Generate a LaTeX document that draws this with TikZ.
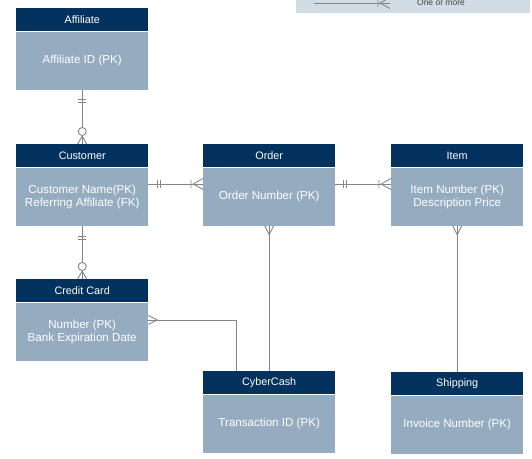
\documentclass[tikz,border=0pt]{standalone}
\usepackage{fontspec}
\setmainfont{Liberation Sans}
\usetikzlibrary{positioning, calc}
\usepackage{xcolor}
\definecolor{hdblue}{HTML}{03325E}
\definecolor{bdblue}{HTML}{95ABC0}
\definecolor{lngray}{HTML}{858585}
\definecolor{lgbg}{HTML}{D2DCE4}

\tikzset{
    head/.style={fill=hdblue, text=white, minimum width=132pt, minimum height=23pt,
        inner sep=0pt, font=\fontsize{10.8}{12}\selectfont},
    body/.style={fill=bdblue, text=white, minimum width=132pt, minimum height=58pt,
        inner sep=0pt, align=center, font=\fontsize{11.6}{13}\selectfont},
    conn/.style={draw=lngray, line width=0.9pt},
    twobar/.pic={\draw[conn] (0,-4) -- (0,4) (3,-4) -- (3,4);},
    onebar/.pic={\draw[conn] (0,-4) -- (0,4);},
    crowfoot/.pic={\draw[conn] (-9,0) -- (0,-4.5) (-9,0) -- (0,4.5);},
    ringfoot/.pic={\draw[conn] (-8,0) -- (0,-4.5) (-8,0) -- (0,4.5);
        \draw[conn, fill=white] (-12.5,0) circle (4);},
    barfoot/.pic={\draw[conn] (-10,0) -- (0,-5.5) (-10,0) -- (0,5.5) (-12,-4) -- (-12,4);}
}

\begin{document}
\begin{tikzpicture}[x=1pt, y=-1pt]
        \useasboundingbox (0,0) rectangle (532,458);

        % Legend
        \fill[lgbg] (296,-10) rectangle (530,13);
        \coordinate (lgA) at (314,3);
        \coordinate (lgB) at (390,3);
        \draw[conn] (lgA) -- (lgB);
        \pic at (lgB) {barfoot};
        \node[text=black!75, font=\fontsize{8.5}{10}\selectfont] (lgtxt) at (441,3) {One or more};

        % Entities
        \node[head, anchor=north west] (affil) at (16,8) {Affiliate};
        \node[body, below=0pt of affil] (affilbody) {Affiliate ID (PK)};

        \node[head, anchor=north west] (cust) at (16,144) {Customer};
        \node[body, below=0pt of cust] (custbody) {Customer Name(PK)\\Referring Affiliate (FK)};

        \node[head, anchor=north west] (order) at (203,144) {Order};
        \node[body, below=0pt of order] (orderbody) {Order Number (PK)};

        \node[head, anchor=north west] (item) at (391,144) {Item};
        \node[body, below=0pt of item] (itembody) {Item Number (PK)\\Description Price};

        \node[head, anchor=north west] (card) at (16,279) {Credit Card};
        \node[body, below=0pt of card] (cardbody) {Number (PK)\\Bank Expiration Date};

        \node[head, anchor=north west] (cyber) at (203,371) {CyberCash};
        \node[body, below=0pt of cyber] (cyberbody) {Transaction ID (PK)};

        \node[head, anchor=north west] (ship) at (391,372) {Shipping};
        \node[body, below=0pt of ship] (shipbody) {Invoice Number (PK)};

        % Affiliate - Customer
        \draw[conn] (affilbody.south) -- (cust.north);
        \pic[rotate=-90] at ($(affilbody.south)+(0,10)$) {twobar};
        \pic[rotate=-90] at (cust.north) {ringfoot};

        % Customer - Credit Card
        \draw[conn] (custbody.south) -- (card.north);
        \pic[rotate=-90] at ($(custbody.south)+(0,11)$) {twobar};
        \pic[rotate=-90] at (card.north) {ringfoot};

        % Customer - Order
        \draw[conn] (custbody.east |- 0,184) coordinate (co1) -- (orderbody.west |- 0,184) coordinate (co2);
        \pic at ($(co1)+(9,0)$) {twobar};
        \pic at (co2) {barfoot};

        % Order - Item
        \draw[conn] (orderbody.east |- 0,184) coordinate (oi1) -- (itembody.west |- 0,184) coordinate (oi2);
        \pic at ($(oi1)+(8,0)$) {twobar};
        \pic at (oi2) {barfoot};

        % Order - CyberCash
        \draw[conn] (orderbody.south) -- (cyber.north);
        \pic[rotate=90] at (orderbody.south) {crowfoot};

        % Item - Shipping
        \draw[conn] (itembody.south) -- (ship.north);
        \pic[rotate=90] at (itembody.south) {crowfoot};

        % Credit Card - CyberCash
        \draw[conn] (cardbody.east |- 0,320) coordinate (cc1) -| (cyber.north -| 236,0);
        \pic[rotate=180] at (cc1) {crowfoot};

    \end{tikzpicture}
\end{document}
